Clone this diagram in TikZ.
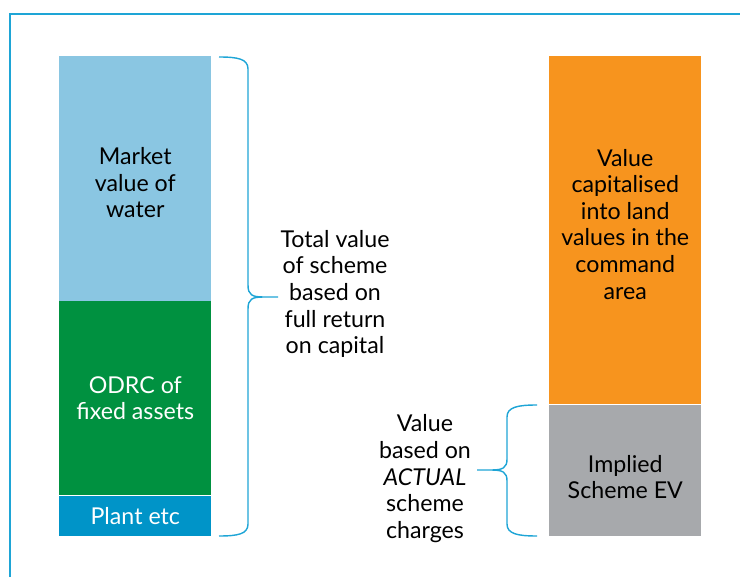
\documentclass[tikz,border=0pt]{standalone}
\usepackage{fontspec}
\setmainfont{Lato}
\usetikzlibrary{positioning}
\definecolor{framecyan}{HTML}{1EA5D6}
\definecolor{waterblue}{HTML}{8AC6E2}
\definecolor{assetgreen}{HTML}{009140}
\definecolor{plantblue}{HTML}{0094C8}
\definecolor{landorange}{HTML}{F7941E}
\definecolor{evgrey}{HTML}{A7A9AC}
\begin{document}
\begin{tikzpicture}[
    bar/.style={minimum width=3.8cm,inner sep=0pt},
    note/.style={inner sep=1pt,align=center,font=\fontsize{16.5}{18.9}\selectfont},
    curly/.style={draw=framecyan,line width=1pt}]
    \useasboundingbox (0,0) rectangle (18.5,14.425);
    % frame, open at right and bottom
    \draw[framecyan,line width=1.1pt] (0.25,0) -- (0.25,14.075) -- (18.5,14.075);
    % left stack
    \node[bar,fill=plantblue,minimum height=1cm,anchor=south west] (plant) at (1.475,1.025) {};
    \node[bar,fill=assetgreen,minimum height=4.85cm,anchor=south] (assets) at (plant.north) {};
    \node[bar,fill=waterblue,minimum height=6.125cm,anchor=south] (water) at (assets.north) {};
    \node[note,text=white] (plantlbl) at (plant.center) {Plant etc};
    \node[note,text=white] (assetslbl) at (assets.center) {ODRC of\\fixed assets};
    \node[note] (waterlbl) at ([yshift=-0.12cm]water.center) {Market\\value of\\water};
    % right stack
    \node[bar,fill=evgrey,minimum height=3.275cm,anchor=south west] (ev) at (13.725,1.025) {};
    \node[bar,fill=landorange,minimum height=8.7cm,anchor=south] (land) at (ev.north) {};
    \node[note] (evlbl) at ([yshift=-0.17cm]ev.center) {Implied\\Scheme EV};
    \node[note] (landlbl) at ([yshift=0.15cm]land.center) {Value\\capitalised\\into land\\values in the\\command\\area};
    % labels
    \node[note] (total) at (8.375,7.075) {Total value\\of scheme\\based on\\full return\\on capital};
    \node[note] (actual) at (10.625,2.46) {Value\\based on\\\textit{ACTUAL}\\scheme\\charges};
    % braces
    \draw[curly] (5.475,13.0) .. controls (5.95,13.0) and (6.2,12.95) .. (6.2,12.7) -- (6.2,7.3)
        .. controls (6.2,7.05) and (6.3,7.0) .. (6.6,7.0) -- (6.95,7.0) -- (6.6,7.0)
        .. controls (6.3,7.0) and (6.2,6.95) .. (6.2,6.7) -- (6.2,1.325)
        .. controls (6.2,1.075) and (5.95,1.025) .. (5.475,1.025);
    \draw[curly] (13.425,4.3) .. controls (12.95,4.3) and (12.675,4.25) .. (12.675,4.0) -- (12.675,2.95)
        .. controls (12.675,2.73) and (12.575,2.675) .. (12.275,2.675) -- (11.925,2.675) -- (12.275,2.675)
        .. controls (12.575,2.675) and (12.675,2.62) .. (12.675,2.4) -- (12.675,1.325)
        .. controls (12.675,1.075) and (12.95,1.025) .. (13.425,1.025);
\end{tikzpicture}
\end{document}
